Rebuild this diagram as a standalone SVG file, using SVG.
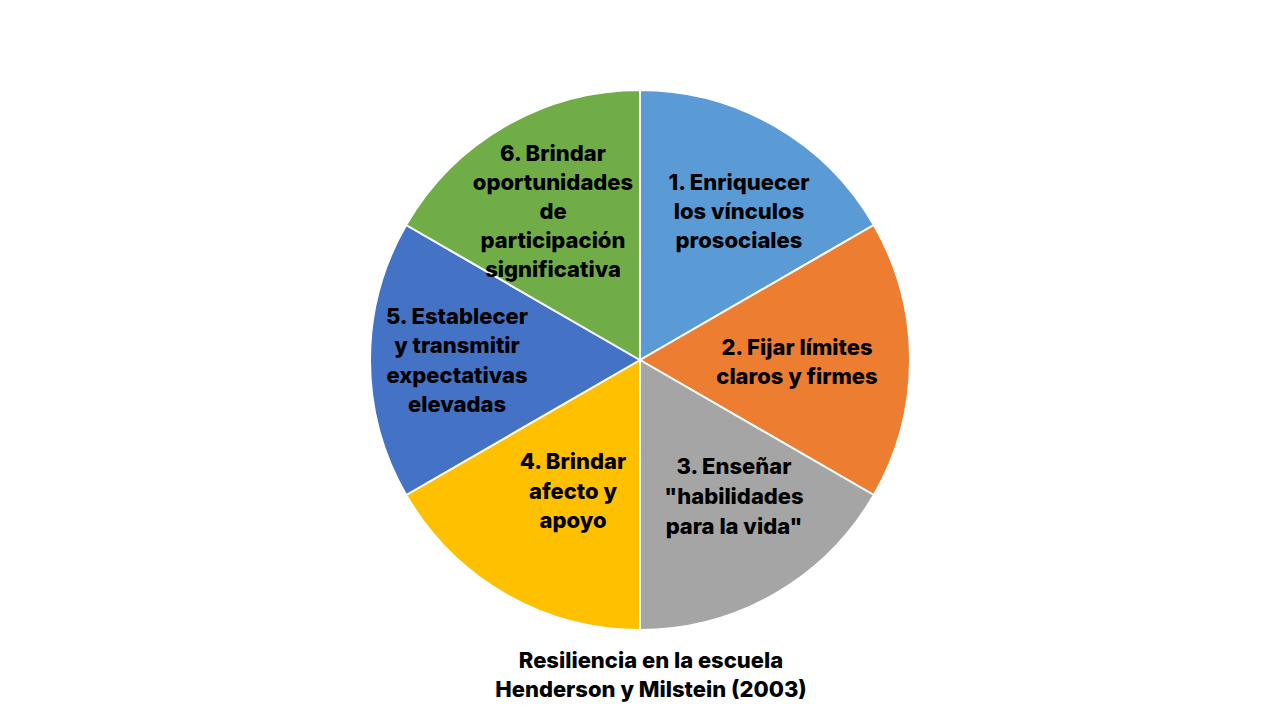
<svg xmlns="http://www.w3.org/2000/svg" width="1280" height="720" viewBox="0 0 1280 720">
<style>
.s{stroke:#fff;stroke-width:2}
text{font-family:Inter,"Noto Sans",sans-serif;font-weight:800;font-size:22px;fill:#000;text-anchor:middle}
</style>
<rect width="1280" height="720" fill="#fff"/>
<g id="slices">
<g id="n1"><path class="s" fill="#5B9BD5" d="M640,360 L640,90 A270,270 0 0 1 873.83,225 Z"/>
<text x="739" y="190">1. Enriquecer</text><text x="739" y="219">los vínculos</text><text x="739" y="248">prosociales</text></g>
<g id="n2"><path class="s" fill="#ED7D31" d="M640,360 L873.83,225 A270,270 0 0 1 873.83,495 Z"/>
<text x="797" y="355">2. Fijar límites</text><text x="797" y="384">claros y firmes</text></g>
<g id="n3"><path class="s" fill="#A5A5A5" d="M640,360 L873.83,495 A270,270 0 0 1 640,630 Z"/>
<text x="734" y="474">3. Enseñar</text><text x="734" y="504">"habilidades</text><text x="734" y="534">para la vida"</text></g>
<g id="n4"><path class="s" fill="#FFC000" d="M640,360 L640,630 A270,270 0 0 1 406.17,495 Z"/>
<text x="573" y="469">4. Brindar</text><text x="573" y="499">afecto y</text><text x="573" y="528">apoyo</text></g>
<g id="n5"><path class="s" fill="#4472C4" d="M640,360 L406.17,495 A270,270 0 0 1 406.17,225 Z"/>
<text x="457" y="324">5. Establecer</text><text x="457" y="353">y transmitir</text><text x="457" y="383">expectativas</text><text x="457" y="412">elevadas</text></g>
<g id="n6"><path class="s" fill="#70AD47" d="M640,360 L406.17,225 A270,270 0 0 1 640,90 Z"/>
<text x="553" y="161">6. Brindar</text><text x="553" y="190">oportunidades</text><text x="553" y="219">de</text><text x="553" y="248">participación</text><text x="553" y="277">significativa</text></g>
</g>
<g id="connectors"/>
<g id="caption"><text x="651" y="668">Resiliencia en la escuela</text><text x="651" y="697">Henderson y Milstein (2003)</text></g>
</svg>
